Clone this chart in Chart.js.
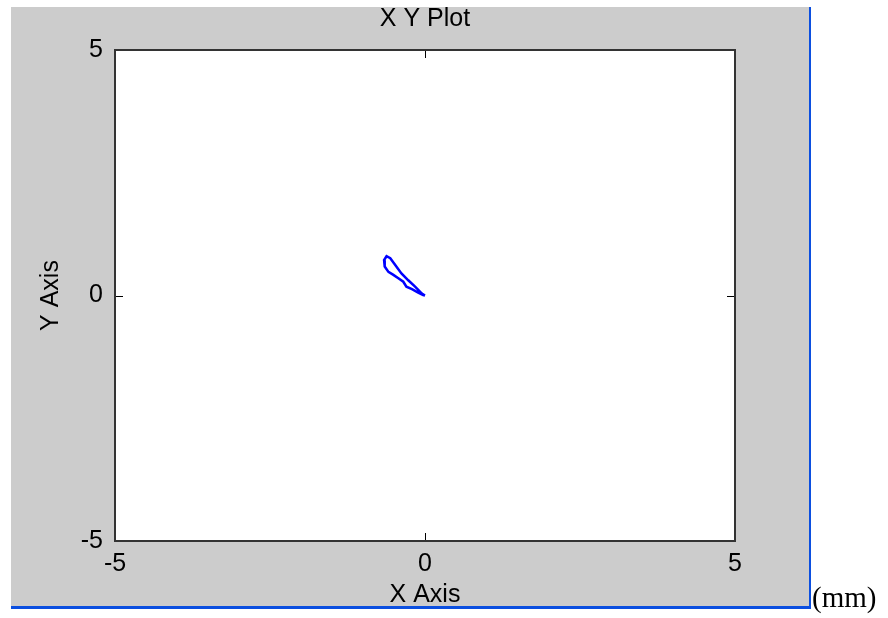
<!DOCTYPE html>
<html>
<head>
<meta charset="utf-8">
<script src="https://cdn.jsdelivr.net/npm/chart.js@4"></script>
<style>
  html, body { margin: 0; padding: 0; background: #ffffff; }
  #wrap { position: relative; width: 888px; height: 618px; }
  #c { position: absolute; left: 0; top: 0; }
  #unit { position: absolute; left: 812px; top: 583px; font-family: "Liberation Serif", serif; font-size: 29px; line-height: 29px; color: #000; }
</style>
</head>
<body>
<div id="wrap">
  <canvas id="c" width="888" height="618"></canvas>
  <span id="unit">(mm)</span>
</div>
<script>
// Data (mm)
const xValues = [0.00, -0.05, -0.16, -0.27, -0.38, -0.48, -0.56, -0.62, -0.66, -0.65, -0.59, -0.51, -0.43, -0.35, -0.30, -0.21, -0.11, -0.03, 0.00];
const yValues = [0.00, 0.04, 0.18, 0.31, 0.45, 0.62, 0.76, 0.80, 0.72, 0.59, 0.48, 0.42, 0.35, 0.28, 0.18, 0.13, 0.06, 0.01, 0.00];
const xTickValues = [-5, 0, 5];
const yTickValues = [-5, 0, 5];
const chartTitle = "X Y Plot";
const xTitle = "X Axis";
const yTitle = "Y Axis";

const points = xValues.map((x, i) => ({ x: x, y: yValues[i] }));
const FONT = "'Liberation Sans', Arial, sans-serif";
const FS = 25;

const framePlugin = {
  id: 'frame',
  beforeDraw(chart) {
    const ctx = chart.ctx;
    ctx.save();
    ctx.fillStyle = '#ffffff';
    ctx.fillRect(0, 0, chart.width, chart.height);
    ctx.fillStyle = '#cccccc';
    ctx.fillRect(11, 7, 799, 599);
    const a = chart.chartArea;
    ctx.fillStyle = '#ffffff';
    ctx.fillRect(a.left, a.top, a.right - a.left, a.bottom - a.top);
    ctx.restore();
  },
  afterDatasetsDraw(chart) {
    const ctx = chart.ctx;
    const a = chart.chartArea;
    const xs = chart.scales.x, ys = chart.scales.y;
    ctx.save();
    ctx.strokeStyle = '#000000';
    ctx.lineWidth = 1;
    const L = 8;
    ctx.beginPath();
    xTickValues.forEach(v => {
      const px = Math.round(xs.getPixelForValue(v)) + 0.5;
      ctx.moveTo(px, a.top); ctx.lineTo(px, a.top + L);
      ctx.moveTo(px, a.bottom); ctx.lineTo(px, a.bottom - L);
    });
    yTickValues.forEach(v => {
      const py = Math.round(ys.getPixelForValue(v)) + 0.5;
      ctx.moveTo(a.left, py); ctx.lineTo(a.left + L, py);
      ctx.moveTo(a.right, py); ctx.lineTo(a.right - L, py);
    });
    ctx.stroke();
    ctx.strokeStyle = '#333333';
    ctx.lineWidth = 2;
    ctx.strokeRect(a.left, a.top, a.right - a.left, a.bottom - a.top);
    ctx.restore();
  },
  afterDraw(chart) {
    const ctx = chart.ctx;
    ctx.save();
    ctx.fillStyle = '#0b4fe0';
    ctx.fillRect(809, 7, 2, 602);
    ctx.fillRect(11, 606, 800, 3);
    ctx.restore();
  }
};

new Chart(document.getElementById('c'), {
  type: 'scatter',
  data: {
    datasets: [{
      data: points,
      showLine: true,
      borderColor: '#0000ff',
      backgroundColor: '#0000ff',
      borderWidth: 2.5,
      pointRadius: 0,
      tension: 0,
      fill: false
    }]
  },
  options: {
    responsive: false,
    animation: false,
    events: [],
    layout: { padding: { left: 11, right: 153, top: 0, bottom: 8 } },
    plugins: {
      legend: { display: false },
      tooltip: { enabled: false },
      title: {
        display: true,
        fullSize: false,
        text: chartTitle,
        color: '#000000',
        font: { family: FONT, size: FS, weight: 'normal', lineHeight: 1.2 },
        padding: { top: 4, bottom: 16 }
      }
    },
    scales: {
      x: {
        type: 'linear',
        min: -5, max: 5,
        afterBuildTicks(scale) { scale.ticks = xTickValues.map(v => ({ value: v })); },
        afterFit(scale) { scale.height = 69; },
        grid: { display: false, drawTicks: false },
        border: { display: false },
        ticks: {
          color: '#000000', padding: 8, maxRotation: 0, autoSkip: false,
          font: { family: FONT, size: FS },
          callback: v => String(v)
        },
        title: {
          display: true, text: xTitle, color: '#000000',
          font: { family: FONT, size: FS }, padding: 0
        }
      },
      y: {
        type: 'linear',
        min: -5, max: 5,
        afterBuildTicks(scale) { scale.ticks = yTickValues.map(v => ({ value: v })); },
        afterFit(scale) { scale.width = 104; },
        grid: { display: false, drawTicks: false },
        border: { display: false },
        ticks: {
          color: '#000000', padding: 12, autoSkip: false,
          font: { family: FONT, size: FS },
          callback: v => String(v)
        },
        title: {
          display: true, text: yTitle, color: '#000000',
          font: { family: FONT, size: FS }, padding: 25
        }
      }
    }
  },
  plugins: [framePlugin]
});
</script>
</body>
</html>
